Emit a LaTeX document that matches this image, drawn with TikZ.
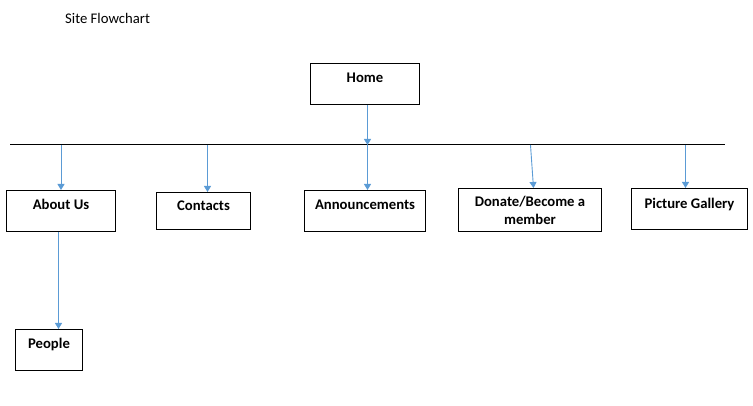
\documentclass[tikz,border=0pt]{standalone}
\usepackage{fontspec}
\setmainfont{Carlito}
\usepackage{xcolor}
\usetikzlibrary{arrows.meta}
\usetikzlibrary{positioning}

\definecolor{pfeilblau}{HTML}{5B9BD5}

\begin{document}
\begin{tikzpicture}
    [x=1pt, y=-1pt,
      % Stil fuer die Seiten
      page/.style={rectangle, draw=black, line width=1pt, inner sep=0pt, align=center,
        font=\fontsize{14.7}{18}\selectfont\bfseries, text height=19pt, text depth=22pt, anchor=north west},
      % Stil fuer die Pfeile
      pfeil/.style={-{Triangle[width=7pt,length=6pt]}, draw=pfeilblau, line width=0.9pt},
      % Stil fuer den Titel
      titel/.style={anchor=west, inner sep=0pt, font=\fontsize{14.7}{17}\selectfont}]
    \useasboundingbox (0,0) rectangle (753,406);

    % Knoten
    \node[titel] (title) at (65,18) {Site Flowchart};
    \node[page, minimum width=109pt] (home) at (310,63) {Home};

    \node[page, minimum width=109pt] (about) at (6,190) {About Us};
    \node[page, minimum width=94pt, text height=18pt, text depth=19pt] (contacts) at (156,192) {Contacts};
    \node[page, minimum width=121pt] (announce) at (304,190) {Announcements};
    \node[page, minimum width=143pt, text height=36pt, text depth=7pt] (donate) at (458,188) {Donate/Become a\\member};
    \node[page, minimum width=116pt, text height=20pt, text depth=21pt] (gallery) at (631,188) {Picture Gallery};
    \node[page, minimum width=67pt] (people) at (15,329) {People};

    % Balken
    \coordinate (barL) at (10,145);
    \coordinate (barR) at (725,145);
    \draw[line width=1pt] (barL) -- (barR);

    % Kanten
    \draw[pfeil] ([xshift=2.5pt]home.south) -- ([xshift=2.5pt]home.south |- barL);
    \draw[pfeil] (about.north |- barL) -- (about.north);
    \draw[pfeil] ([xshift=4pt]contacts.north |- barL) -- ([xshift=4pt]contacts.north);
    \draw[pfeil] ([xshift=2.5pt]announce.north |- barL) -- ([xshift=2.5pt]announce.north);
    \draw[pfeil] ([xshift=0.5pt]donate.north |- barL) -- ([xshift=3.5pt]donate.north);
    \draw[pfeil] ([xshift=-4pt]gallery.north |- barL) -- ([xshift=-4pt]gallery.north);
    \draw[pfeil] ([xshift=-2.5pt]about.south) -- ([xshift=-2.5pt]about.south |- people.north);

\end{tikzpicture}
\end{document}
